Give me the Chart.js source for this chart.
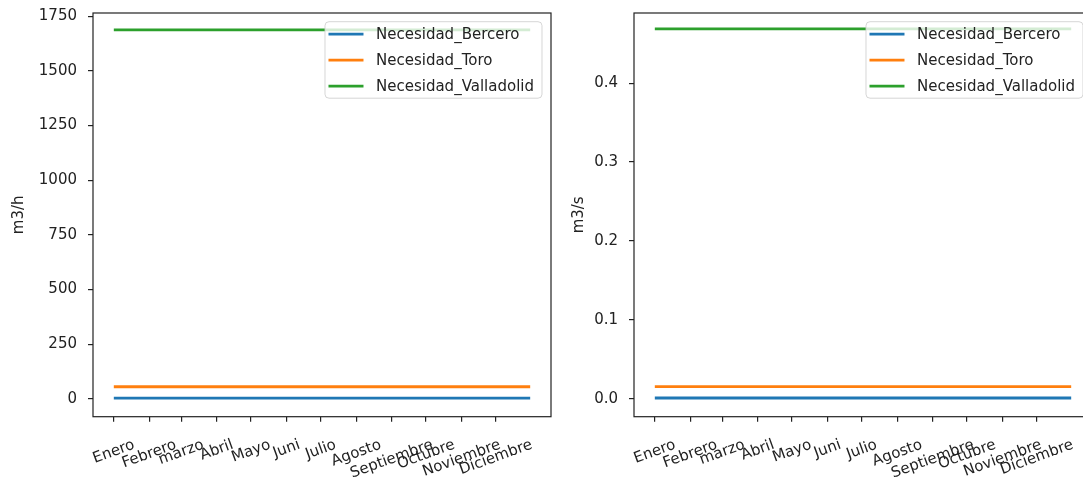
<!DOCTYPE html>
<html>
<head>
<meta charset="utf-8">
<script src="https://cdn.jsdelivr.net/npm/chart.js@4.4.0/dist/chart.umd.min.js"></script>
<style>
    html, body { margin: 0; padding: 0; background: #fff; overflow: hidden; }
    body { width: 1083px; height: 477px; position: relative; }
    canvas { position: absolute; top: 0; }
    #chartH { left: 0; }
    #chartS { left: 560px; }
</style>
</head>
<body>
<canvas id="chartH" width="560" height="477"></canvas>
<canvas id="chartS" width="540" height="477"></canvas>
<script>
// Month ticks (day of year where each month starts)
const monthLabels = ['Enero', 'Febrero', 'marzo', 'Abril', 'Mayo', 'Juni', 'Julio', 'Agosto', 'Septiembre', 'Octubre', 'Noviembre', 'Diciembre'];
const monthStartDay = [0, 31, 59, 90, 120, 151, 181, 212, 243, 273, 304, 334];

// Sample days of the series (month starts + last day)
const dayIndex = [0, 31, 59, 90, 120, 151, 181, 212, 243, 273, 304, 334, 364];

const seriesNames = ['Necesidad_Bercero', 'Necesidad_Toro', 'Necesidad_Valladolid'];
const seriesColors = ['#1f77b4', '#ff7f0e', '#2ca02c'];

// m3/h
const berceroH = [3.2, 3.2, 3.2, 3.2, 3.2, 3.2, 3.2, 3.2, 3.2, 3.2, 3.2, 3.2, 3.2];
const toroH = [55, 55, 55, 55, 55, 55, 55, 55, 55, 55, 55, 55, 55];
const valladolidH = [1688, 1688, 1688, 1688, 1688, 1688, 1688, 1688, 1688, 1688, 1688, 1688, 1688];

// m3/s
const berceroS = [0.0009, 0.0009, 0.0009, 0.0009, 0.0009, 0.0009, 0.0009, 0.0009, 0.0009, 0.0009, 0.0009, 0.0009, 0.0009];
const toroS = [0.0153, 0.0153, 0.0153, 0.0153, 0.0153, 0.0153, 0.0153, 0.0153, 0.0153, 0.0153, 0.0153, 0.0153, 0.0153];
const valladolidS = [0.469, 0.469, 0.469, 0.469, 0.469, 0.469, 0.469, 0.469, 0.469, 0.469, 0.469, 0.469, 0.469];

// y tick labels
const yTicksH = ['0', '250', '500', '750', '1000', '1250', '1500', '1750'];
const yTicksS = ['0.0', '0.1', '0.2', '0.3', '0.4'];

const FONT = 'DejaVu Sans';
const FONT_SIZE = 15;
const TEXT_COLOR = '#222';

// Frame, rotated month labels and matplotlib style legend
const mplDecor = {
    id: 'mplDecor',
    afterDraw(chart) {
        const ctx = chart.ctx;
        const area = chart.chartArea;
        const xScale = chart.scales.x;

        // full box
        ctx.save();
        ctx.strokeStyle = '#222';
        ctx.lineWidth = 1.2;
        ctx.strokeRect(area.left, area.top, area.right - area.left, area.bottom - area.top);

        // month labels, rotated 20 deg, centered on tick
        ctx.font = FONT_SIZE + 'px "' + FONT + '"';
        ctx.fillStyle = TEXT_COLOR;
        ctx.textAlign = 'center';
        ctx.textBaseline = 'middle';
        const ang = 20 * Math.PI / 180;
        const h = FONT_SIZE * 1.1;
        monthStartDay.forEach((d, i) => {
            const x = xScale.getPixelForValue(d);
            const w = ctx.measureText(monthLabels[i]).width;
            const bboxH = w * Math.sin(ang) + h * Math.cos(ang);
            const cy = area.bottom + 20 + bboxH / 2;
            ctx.save();
            ctx.translate(x, cy);
            ctx.rotate(-ang);
            ctx.fillText(monthLabels[i], 0, 0);
            ctx.restore();
        });

        // legend
        const datasets = chart.data.datasets;
        let textW = 0;
        datasets.forEach(ds => { textW = Math.max(textW, ctx.measureText(ds.label).width); });
        const boxRight = area.right - 9;
        const boxW = 3.5 + 35 + 12.5 + textW + 8;
        const boxLeft = boxRight - boxW;
        const boxTop = area.top + 8.7;
        const boxH = 76.5;
        ctx.beginPath();
        ctx.roundRect(boxLeft, boxTop, boxW, boxH, 4);
        ctx.fillStyle = 'rgba(255,255,255,0.8)';
        ctx.fill();
        ctx.strokeStyle = 'rgba(204,204,204,0.8)';
        ctx.lineWidth = 1;
        ctx.stroke();
        ctx.textAlign = 'left';
        datasets.forEach((ds, i) => {
            const y = boxTop + 12.5 + i * 26;
            ctx.beginPath();
            ctx.strokeStyle = ds.borderColor;
            ctx.lineWidth = 2.8;
            ctx.moveTo(boxLeft + 3.5, y);
            ctx.lineTo(boxLeft + 38.5, y);
            ctx.stroke();
            ctx.fillStyle = TEXT_COLOR;
            ctx.fillText(ds.label, boxLeft + 51, y + 1);
        });
        ctx.restore();
    }
};

function makeChart(canvasId, values, yTicks, yMin, yMax, yTitle, axisWidth, padRight) {
    const datasets = values.map((vals, i) => ({
        label: seriesNames[i],
        data: dayIndex.map((d, j) => ({ x: d, y: vals[j] })),
        borderColor: seriesColors[i],
        backgroundColor: seriesColors[i],
        borderWidth: 2.8,
        pointRadius: 0,
        tension: 0
    }));

    return new Chart(document.getElementById(canvasId), {
        type: 'line',
        data: { datasets: datasets },
        options: {
            responsive: false,
            animation: false,
            devicePixelRatio: 1,
            layout: { padding: { left: 0, top: 13, right: padRight, bottom: 0 } },
            plugins: {
                legend: { display: false },
                tooltip: { enabled: false }
            },
            scales: {
                x: {
                    type: 'linear',
                    min: -18.2,
                    max: 382.2,
                    afterBuildTicks: scale => {
                        scale.ticks = monthStartDay.map(v => ({ value: v }));
                    },
                    afterFit: scale => {
                        scale.height = 60.3;
                        scale.paddingLeft = 0;
                        scale.paddingRight = 0;
                    },
                    ticks: { display: false },
                    grid: {
                        drawOnChartArea: false,
                        drawTicks: true,
                        tickLength: 5,
                        tickColor: '#222',
                        lineWidth: 1.2
                    },
                    border: { display: false }
                },
                y: {
                    type: 'linear',
                    min: yMin,
                    max: yMax,
                    afterBuildTicks: scale => {
                        scale.ticks = yTicks.map(t => ({ value: parseFloat(t) }));
                    },
                    afterFit: scale => {
                        scale.width = axisWidth;
                        scale.paddingTop = 0;
                        scale.paddingBottom = 0;
                    },
                    ticks: {
                        padding: 11,
                        color: TEXT_COLOR,
                        font: { family: FONT, size: FONT_SIZE },
                        callback: (value, index) => yTicks[index]
                    },
                    grid: {
                        drawOnChartArea: false,
                        drawTicks: true,
                        tickLength: 5,
                        tickColor: '#222',
                        lineWidth: 1.2
                    },
                    border: { display: false },
                    title: {
                        display: true,
                        text: yTitle,
                        color: TEXT_COLOR,
                        font: { family: FONT, size: FONT_SIZE },
                        padding: { top: 10, bottom: 0 }
                    }
                }
            }
        },
        plugins: [mplDecor]
    });
}

makeChart('chartH', [berceroH, toroH, valladolidH], yTicksH, -82, 1765, 'm3/h', 93, 9);
makeChart('chartS', [berceroS, toroS, valladolidS], yTicksS, -0.0228, 0.489, 'm3/s', 74, 8);
</script>
</body>
</html>
